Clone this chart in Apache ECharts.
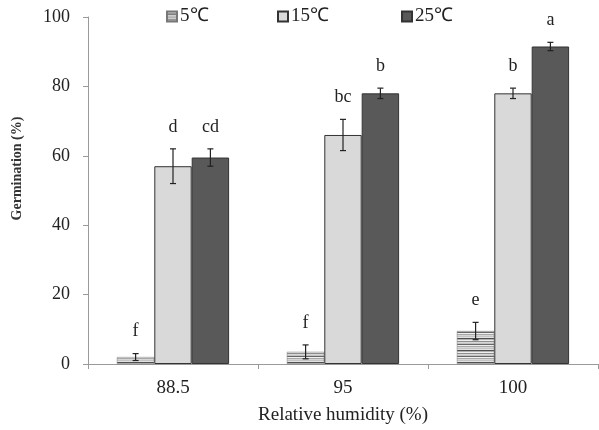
<!DOCTYPE html>
<html>
<head>
<meta charset="utf-8">
<script src="https://cdn.jsdelivr.net/npm/echarts@6/dist/echarts.min.js"></script>
<style>
html, body { margin: 0; padding: 0; background: #fff; }
#main { width: 599px; height: 430px; }
</style>
</head>
<body>
<div id="main"></div>
<script>
var categories = ['88.5', '95', '100'];
var seriesNames = ['5℃', '15℃', '25℃'];
var germ5 = [2, 3.5, 9.5];
var germ15 = [57, 66, 78];
var germ25 = [59.5, 78, 91.5];
var err5 = [1, 2, 2.5];
var err15 = [5, 4.5, 1.5];
var err25 = [2.5, 1.5, 1.2];
var letters5 = ['f', 'f', 'e'];
var letters15 = ['d', 'bc', 'b'];
var letters25 = ['cd', 'b', 'a'];
var yTicks = [0, 20, 40, 60, 80, 100];

// striped fill for the 5℃ bars
var stripe = document.createElement('canvas');
stripe.width = 8;
stripe.height = 12;
var ctx = stripe.getContext('2d');
var rows = ['#c4c4c4', '#e2e2e2', '#4f4f4f', '#b0b0b0', '#efefef', '#8e8e8e',
	'#d8d8d8', '#c2c2c2', '#666666', '#f0f0f0', '#a8a8a8', '#d6d6d6'];
for (var r = 0; r < rows.length; r++) {
	ctx.fillStyle = rows[r];
	ctx.fillRect(0, r, 8, 1);
}
var stripeFill = { image: stripe, repeat: 'repeat' };

var allVals = [germ5, germ15, germ25];
var allErr = [err5, err15, err25];
var allLetters = [letters5, letters15, letters25];
var errData = [];
for (var s = 0; s < 3; s++) {
	for (var i = 0; i < categories.length; i++) {
		errData.push([i, allVals[s][i], allErr[s][i], s, allLetters[s][i]]);
	}
}

var gapRatio = 0.34;
var serif = '"Liberation Serif", "Times New Roman", serif';
var legendLeft = [161, 272, 396];

var legends = seriesNames.map(function (n, k) {
	return {
		top: 2,
		left: legendLeft[k],
		itemWidth: 10,
		itemHeight: 10,
		icon: 'rect',
		textStyle: { fontFamily: serif, fontSize: 19, color: '#222', padding: [2, 0, 0, -2] },
		data: [n]
	};
});

var myChart = echarts.init(document.getElementById('main'));
var option = {
	backgroundColor: '#fff',
	animation: false,
	textStyle: { fontFamily: serif },
	legend: legends,
	grid: { left: 88, right: 1, top: 17, bottom: 66 },
	xAxis: {
		type: 'category',
		data: categories,
		name: 'Relative humidity (%)',
		nameLocation: 'middle',
		nameGap: 42,
		nameTextStyle: { fontFamily: serif, fontSize: 19, color: '#222' },
		axisLine: { lineStyle: { color: '#9a9a9a' } },
		axisTick: { show: true, length: 5, lineStyle: { color: '#9a9a9a' } },
		axisLabel: { fontFamily: serif, fontSize: 19, color: '#222', margin: 15 }
	},
	yAxis: {
		type: 'value',
		min: 0,
		max: 100,
		interval: 20,
		name: 'Germination (%)',
		nameLocation: 'middle',
		nameGap: 64,
		nameTextStyle: { fontFamily: serif, fontSize: 14, fontWeight: 'bold', color: '#333', padding: [0, 0, 0, 44] },
		axisLine: { show: true, lineStyle: { color: '#9a9a9a' } },
		axisTick: { show: true, length: 5, lineStyle: { color: '#9a9a9a' } },
		axisLabel: { fontFamily: serif, fontSize: 18, color: '#222', margin: 18,
			formatter: function (v) { return yTicks.indexOf(v) >= 0 ? String(v) : ''; } },
		splitLine: { show: false }
	},
	series: [{
		name: seriesNames[0],
		type: 'bar',
		data: germ5,
		barGap: '0%',
		barCategoryGap: '34%',
		itemStyle: { color: stripeFill, borderColor: '#777', borderWidth: 0.5 }
	}, {
		name: seriesNames[1],
		type: 'bar',
		data: germ15,
		itemStyle: { color: '#d9d9d9', borderColor: '#333', borderWidth: 1 }
	}, {
		name: seriesNames[2],
		type: 'bar',
		data: germ25,
		itemStyle: { color: '#595959', borderColor: '#333', borderWidth: 1 }
	}, {
		// error bars and significance letters
		type: 'custom',
		data: errData,
		z: 10,
		silent: true,
		renderItem: function (params, api) {
			var cat = api.value(0);
			var val = api.value(1);
			var err = api.value(2);
			var s = api.value(3);
			var band = api.size([1, 0])[0];
			var bw = band * (1 - gapRatio) / 3;
			var center = api.coord([cat, val]);
			var x = center[0] + (s - 1) * bw;
			var yHi = api.coord([cat, val + err])[1];
			var yLo = api.coord([cat, Math.max(val - err, 0)])[1];
			var cap = 3;
			var st = { stroke: '#222', lineWidth: 1.2 };
			return {
				type: 'group',
				children: [
					{ type: 'line', shape: { x1: x, y1: yHi, x2: x, y2: yLo }, style: st },
					{ type: 'line', shape: { x1: x - cap, y1: yHi, x2: x + cap, y2: yHi }, style: st },
					{ type: 'line', shape: { x1: x - cap, y1: yLo, x2: x + cap, y2: yLo }, style: st },
					{ type: 'text', x: x, y: yHi - 22,
						style: { text: api.value(4), fill: '#222', font: '18px ' + serif,
							align: 'center', verticalAlign: 'middle' } }
				]
			};
		}
	}]
};
myChart.setOption(option);
</script>
</body>
</html>
